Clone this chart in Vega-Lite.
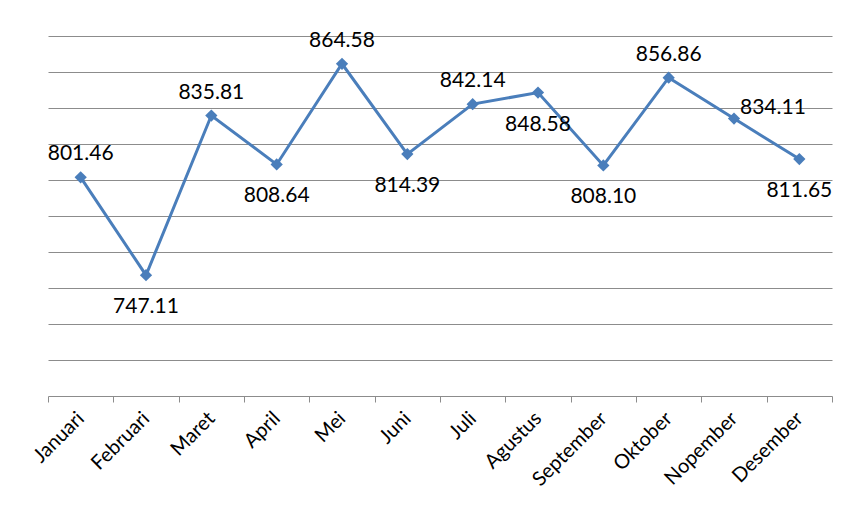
{
  "$schema": "https://vega.github.io/schema/vega-lite/v6.json",
  "width": 784,
  "height": 360,
  "autosize": {"type": "none"},
  "padding": {"left": 48, "top": 36, "right": 18, "bottom": 119},
  "background": "white",
  "config": {"view": {"stroke": null}, "font": "Lato"},
  "data": {
    "values": [
      {"bulan": "Januari", "nilai": 801.46, "pos": "above"},
      {"bulan": "Februari", "nilai": 747.11, "pos": "below"},
      {"bulan": "Maret", "nilai": 835.81, "pos": "above"},
      {"bulan": "April", "nilai": 808.64, "pos": "below"},
      {"bulan": "Mei", "nilai": 864.58, "pos": "above"},
      {"bulan": "Juni", "nilai": 814.39, "pos": "below"},
      {"bulan": "Juli", "nilai": 842.14, "pos": "above"},
      {"bulan": "Agustus", "nilai": 848.58, "pos": "below"},
      {"bulan": "September", "nilai": 808.10, "pos": "below"},
      {"bulan": "Oktober", "nilai": 856.86, "pos": "above"},
      {"bulan": "Nopember", "nilai": 834.11, "pos": "right"},
      {"bulan": "Desember", "nilai": 811.65, "pos": "below"}
    ]
  },
  "encoding": {
    "x": {
      "field": "bulan",
      "type": "ordinal",
      "sort": null,
      "scale": {"type": "band", "paddingInner": 0, "paddingOuter": 0},
      "axis": {
        "title": null,
        "labelAngle": -45,
        "labelAlign": "right",
        "labelBaseline": "middle",
        "labelFont": "Lato",
        "labelFontSize": 20,
        "labelColor": "#000000",
        "labelPadding": 13,
        "tickBand": "extent",
        "tickSize": 6,
        "tickColor": "#8c8c8c",
        "domainColor": "#8c8c8c",
        "grid": false
      }
    },
    "y": {
      "field": "nilai",
      "type": "quantitative",
      "scale": {"domain": [680, 880], "zero": false, "nice": false},
      "axis": {
        "title": null,
        "values": [700, 720, 740, 760, 780, 800, 820, 840, 860, 880],
        "grid": true,
        "gridColor": "#8c8c8c",
        "gridWidth": 1,
        "domain": false,
        "ticks": false,
        "labels": false
      }
    }
  },
  "layer": [
    {
      "mark": {
        "type": "line",
        "color": "#4A7EBB",
        "strokeWidth": 3,
        "point": {"shape": "diamond", "size": 150, "filled": true, "color": "#4A7EBB", "opacity": 1}
      }
    },
    {
      "transform": [{"filter": "datum.pos == 'above'"}],
      "mark": {"type": "text", "fontSize": 21, "font": "Lato", "color": "#000000", "baseline": "alphabetic", "dy": -17},
      "encoding": {"text": {"field": "nilai", "type": "quantitative", "format": ".2f"}}
    },
    {
      "transform": [{"filter": "datum.pos == 'below'"}],
      "mark": {"type": "text", "fontSize": 21, "font": "Lato", "color": "#000000", "baseline": "alphabetic", "dy": 38},
      "encoding": {"text": {"field": "nilai", "type": "quantitative", "format": ".2f"}}
    },
    {
      "transform": [{"filter": "datum.pos == 'right'"}],
      "mark": {"type": "text", "fontSize": 21, "font": "Lato", "color": "#000000", "baseline": "alphabetic", "align": "left", "dx": 6, "dy": -5},
      "encoding": {"text": {"field": "nilai", "type": "quantitative", "format": ".2f"}}
    }
  ]
}
